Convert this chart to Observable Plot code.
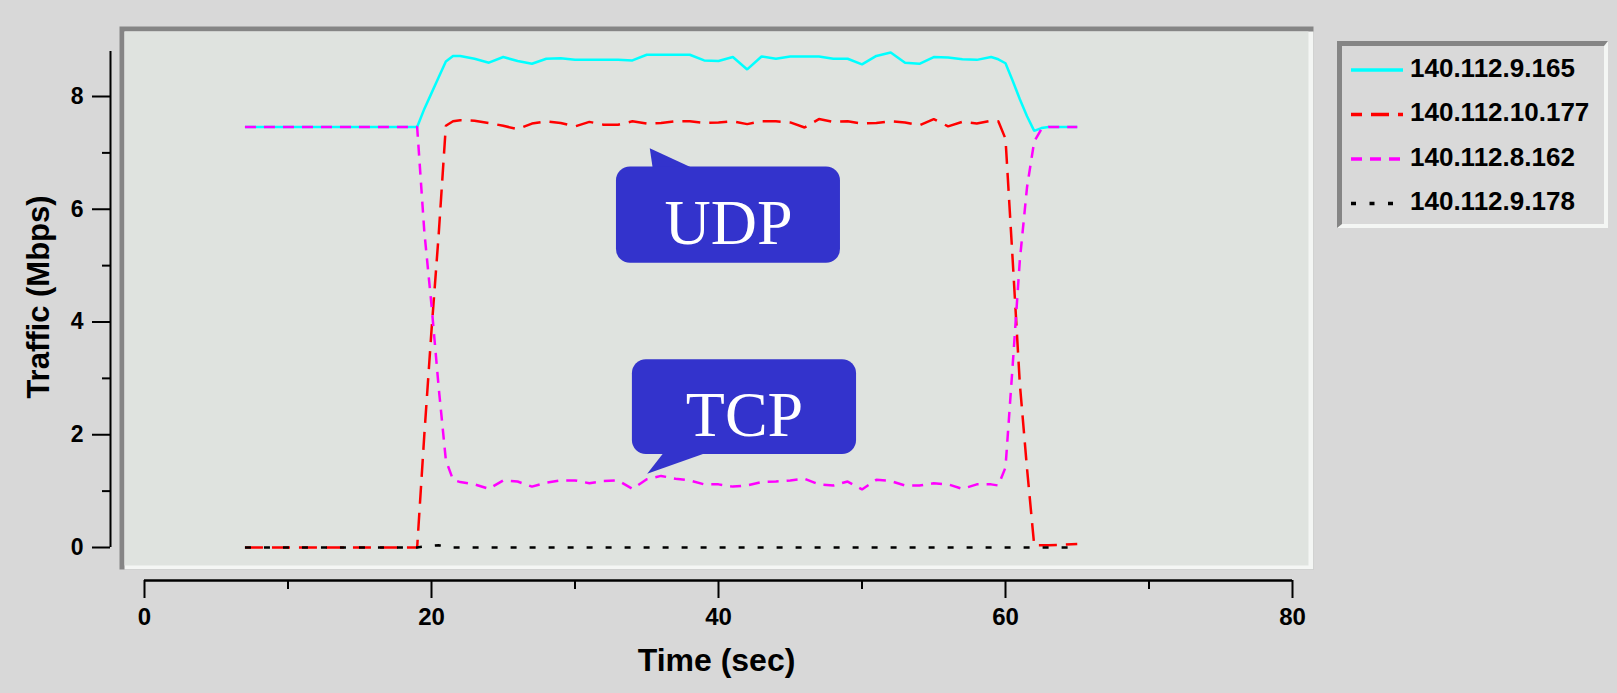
<!DOCTYPE html>
<html><head><meta charset="utf-8">
<script src="https://cdn.jsdelivr.net/npm/d3@7"></script>
<script src="https://cdn.jsdelivr.net/npm/@observablehq/plot@0.6"></script>
<style>
html,body{margin:0;padding:0;background:#d8d8d8;}
#wrap{position:relative;width:1617px;height:693px;background:#d8d8d8;overflow:hidden;}
#wrap > svg{position:absolute;left:0;top:0;}
#legend{position:absolute;left:1337px;top:41px;width:271px;height:187px;box-sizing:border-box;
  border-top:5px solid #858585;border-left:5px solid #858585;border-right:4px solid #f4f6f4;border-bottom:4px solid #f4f6f4;background:#d9d9d9;}
#legend svg{position:absolute;left:0;top:0;}
</style></head>
<body><div id="wrap"><div id="legend"></div></div>
<script>
// time (sec)
const time = [7,8,9,10,11,12,13,14,15,16,17,18,19,19.5,20,20.5,21,21.5,
  22,23,24,25,26,27,28,29,30,31,32,33,34,35,36,37,38,39,40,41,42,43,44,45,46,47,48,49,50,51,52,53,54,55,56,57,58,59,
  59.5,60,60.5,61,61.5,62,62.5,63,64,65];

// Traffic (Mbps) per host
const host165 = [7.46,7.46,7.46,7.46,7.46,7.46,7.46,7.46,7.46,7.46,7.46,7.46,7.46,7.78,8.06,8.34,8.62,8.72,
  8.72,8.67,8.60,8.70,8.63,8.58,8.67,8.68,8.65,8.65,8.65,8.65,8.64,8.74,8.74,8.74,8.74,8.64,8.63,8.70,8.48,8.71,8.67,8.71,8.71,8.71,8.67,8.67,8.57,8.72,8.78,8.60,8.58,8.70,8.69,8.66,8.65,8.70,
  8.66,8.59,8.28,7.95,7.65,7.39,7.44,7.46,7.46,7.46];
const host177 = [0,0,0,0,0,0,0,0,0,0,0,0,0,2.0,3.85,5.55,7.48,7.56,
  7.58,7.57,7.53,7.48,7.42,7.52,7.56,7.53,7.47,7.55,7.50,7.50,7.56,7.52,7.53,7.56,7.56,7.53,7.54,7.56,7.51,7.56,7.56,7.54,7.45,7.60,7.55,7.56,7.52,7.53,7.56,7.54,7.49,7.60,7.47,7.55,7.52,7.57,
  7.56,7.25,5.1,2.9,1.4,0.04,0.04,0.04,0.05,0.06];
const host162 = [7.46,7.46,7.46,7.46,7.46,7.46,7.46,7.46,7.46,7.46,7.46,7.46,7.46,5.6,4.3,2.84,1.55,1.2,
  1.16,1.12,1.04,1.19,1.17,1.08,1.15,1.19,1.19,1.14,1.18,1.19,1.04,1.21,1.27,1.22,1.19,1.12,1.12,1.08,1.10,1.16,1.17,1.19,1.22,1.12,1.10,1.17,1.03,1.20,1.18,1.10,1.10,1.14,1.12,1.04,1.12,1.12,
  1.10,1.42,3.23,5.1,6.39,7.2,7.42,7.46,7.46,7.46];
const host178 = [0,0,0,0,0,0,0,0,0,0,0,0,0,0.02,0.03,0.04,0.01,0,
  0,0,0,0,0,0,0,0,0,0,0,0,0,0,0,0,0,0,0,0,0,0,0,0,0,0,0,0,0,0,0,0,0,0,0,0,0,0,
  0,0,0,0,0,0,0,0,0,0];

const hostNames = ["140.112.9.165","140.112.10.177","140.112.8.162","140.112.9.178"];
const hostValues = [host165, host177, host162, host178];
const hostColors = ["#00ffff","#ff0000","#ff00ff","#000000"];
const hostDashes = [null, "18,9", "11,8", "6,13"];

const xTicks = [0,20,40,60,80];
const xMinor = [10,30,50,70];
const yTicks = [0,2,4,6,8];
const yMinor = [1,3,5,7];

// annotation callouts (data units)
const calloutLabels = ["UDP","TCP"];
const calloutBox = [[32.89,48.5,5.04,6.75],[34.0,49.62,1.65,3.33]];
const calloutText = [[40.7,5.75],[41.81,2.34]];
const calloutPointer = [[[35.21,7.08],[35.49,6.6],[39.32,6.6]],[[35.03,1.31],[36.54,1.8],[40.49,1.8]]];

const rows = hostNames.map((name,k)=> time.map((t,i)=>({name, t, v: hostValues[k][i]})));
const boxes = calloutLabels.map((label,i)=>({label, x1:calloutBox[i][0], x2:calloutBox[i][1], y1:calloutBox[i][2], y2:calloutBox[i][3], tx:calloutText[i][0], ty:calloutText[i][1]}));
const pointers = calloutLabels.flatMap((label,i)=>calloutPointer[i].map(([x,y])=>({label,x,y})));

const sans = "'Liberation Sans', Arial, Helvetica, sans-serif";
const serif = "'Liberation Serif', 'Times New Roman', serif";

const chart = Plot.plot({
  width: 1617, height: 693,
  marginLeft: 144, marginRight: 325, marginTop: 96, marginBottom: 146,
  x: {domain: [0,80], label: null},
  y: {domain: [0,8], label: null},
  style: {background: "transparent", fontFamily: sans, fontWeight: "bold", color: "#000", overflow: "visible"},
  marks: [
    // bevelled panel
    Plot.frame({fill: "#858585", stroke: "none", clip: false, insetLeft: -25, insetRight: -21, insetTop: -70, insetBottom: -22}),
    Plot.frame({fill: "#f4f6f4", stroke: "none", clip: false, insetLeft: -20, insetRight: -21, insetTop: -65, insetBottom: -22}),
    Plot.frame({fill: "#dfe3df", stroke: "none", clip: false, insetLeft: -20, insetRight: -16, insetTop: -65, insetBottom: -18}),
    // y axis
    Plot.ruleX([0], {dx: -34, insetTop: -45, strokeWidth: 2, clip: false}),
    Plot.axisY({ticks: yTicks, tickSize: 18, tickPadding: 9, dx: -34, label: null, fontSize: 23, strokeWidth: 2}),
    Plot.axisY({ticks: yMinor, tickSize: 8, dx: -34, text: null, label: null, strokeWidth: 2}),
    // x axis
    Plot.ruleY([0], {dy: 33, strokeWidth: 2.5, clip: false}),
    Plot.axisX({ticks: xTicks, tickSize: 18, tickPadding: 9, dy: 33, label: null, fontSize: 24, strokeWidth: 2}),
    Plot.axisX({ticks: xMinor, tickSize: 9, dy: 33, text: null, label: null, strokeWidth: 2}),
    Plot.text(["Time (sec)"], {frameAnchor: "bottom", lineAnchor: "middle", textAnchor: "middle", dy: 113, dx: -2, fontSize: 32}),
    Plot.text(["Traffic (Mbps)"], {frameAnchor: "left", lineAnchor: "middle", textAnchor: "middle", rotate: -90, dx: -105, dy: -25, fontSize: 31}),
    // series
    ...rows.map((data,k)=> Plot.line(data, {x: "t", y: "v", stroke: hostColors[k], strokeWidth: 2.5,
        strokeDasharray: hostDashes[k] ?? undefined, strokeLinecap: "butt", strokeLinejoin: "miter", clip: false})),
    // callouts
    Plot.line(pointers, {x: "x", y: "y", z: "label", fill: "#3333cc", stroke: "none", clip: false}),
    Plot.rect(boxes, {x1: "x1", x2: "x2", y1: "y1", y2: "y2", fill: "#3333cc", rx: 14, ry: 14, clip: false}),
    Plot.text(boxes, {x: "tx", y: "ty", text: "label", fill: "white", fontSize: 64, fontFamily: serif, fontWeight: "normal"})
  ]
});
const wrap = document.getElementById("wrap");
wrap.insertBefore(chart, wrap.firstChild);

// legend
const leg = d3.select("#legend").append("svg").attr("width", 262).attr("height", 178);
const rowY = [24, 68.5, 113, 157.5];
hostNames.forEach((name,k)=>{
  const g = leg.append("g").attr("transform", `translate(0,${rowY[k]})`);
  g.append("line").attr("x1", 9).attr("x2", 61).attr("y1", 0).attr("y2", 0)
    .attr("stroke", hostColors[k]).attr("stroke-width", 3.5)
    .attr("stroke-dasharray", hostDashes[k] ? (k===3 ? "5,13.5" : hostDashes[k]) : null)
    .attr("stroke-dashoffset", k===1 ? 7 : 0);
  g.append("text").attr("x", 68).attr("y", 6.7).text(name)
    .attr("font-family", sans).attr("font-weight", "bold").attr("font-size", 26).attr("fill", "#000");
});
</script>
</body></html>
